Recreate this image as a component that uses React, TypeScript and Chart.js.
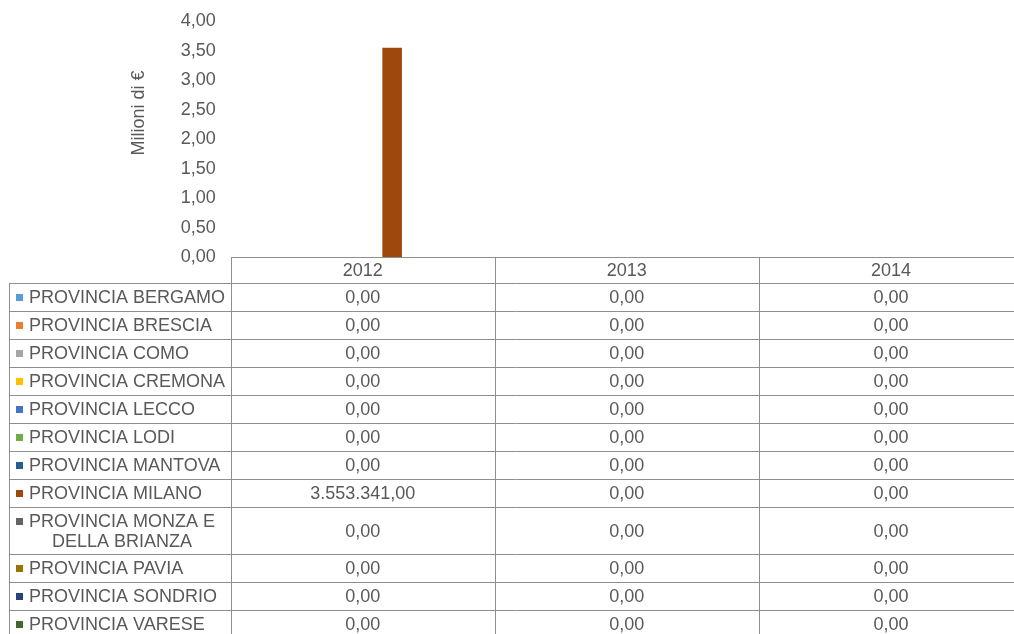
import React, { useEffect, useRef } from "react";
import { Chart, registerables } from "chart.js";

Chart.register(...registerables);

// ---------- data ----------
const years = ["2012", "2013", "2014"];
const provinces = [
  "PROVINCIA BERGAMO",
  "PROVINCIA BRESCIA",
  "PROVINCIA COMO",
  "PROVINCIA CREMONA",
  "PROVINCIA LECCO",
  "PROVINCIA LODI",
  "PROVINCIA MANTOVA",
  "PROVINCIA MILANO",
  "PROVINCIA MONZA E DELLA BRIANZA",
  "PROVINCIA PAVIA",
  "PROVINCIA SONDRIO",
  "PROVINCIA VARESE",
];
const bergamo = [0, 0, 0];
const brescia = [0, 0, 0];
const como = [0, 0, 0];
const cremona = [0, 0, 0];
const lecco = [0, 0, 0];
const lodi = [0, 0, 0];
const mantova = [0, 0, 0];
const milano = [3553341, 0, 0];
const monza = [0, 0, 0];
const pavia = [0, 0, 0];
const sondrio = [0, 0, 0];
const varese = [0, 0, 0];
const seriesValues = [bergamo, brescia, como, cremona, lecco, lodi, mantova, milano, monza, pavia, sondrio, varese];
const seriesColors = [
  "#5B9BD5", "#ED7D31", "#A5A5A5", "#FFC000", "#4472C4", "#70AD47",
  "#255E91", "#9E480E", "#636363", "#997300", "#264478", "#43682B",
];
const axisTitle = "Milioni di €";
const yMin = 0;
const yMax = 4;
const yStep = 0.5;
const unit = 1000000;

// ---------- helpers ----------
const FONT = "'Liberation Sans', Arial, sans-serif";
const TEXT = "#595959";
const LINE = "#8e8e8e";

function fmtIt(v: number): string {
  const [i, d] = v.toFixed(2).split(".");
  return i.replace(/\B(?=(\d{3})+(?!\d))/g, ".") + "," + d;
}

function wrap(ctx: CanvasRenderingContext2D, text: string, max: number): string[] {
  const words = text.split(" ");
  const lines: string[] = [];
  let cur = "";
  for (const w of words) {
    const t = cur ? cur + " " + w : w;
    if (cur && ctx.measureText(t).width > max) {
      lines.push(cur);
      cur = w;
    } else cur = t;
  }
  if (cur) lines.push(cur);
  return lines;
}

const px = (v: number) => Math.round(v) + 0.5;

const tablePlugin = {
  id: "dataTable",
  afterDraw(chart: any) {
    const ctx: CanvasRenderingContext2D = chart.ctx;
    const area = chart.chartArea;
    const xs = chart.scales.x;
    const colW = (area.right - area.left) / years.length;
    const tableLeft = 9.5;
    const headerH = 26;
    const rowH = 27.95;
    const extraLineH = 19.45;
    const lineH = 20;
    const labelX = 29;
    const maxLabelW = 200;

    ctx.save();
    ctx.font = "18px " + FONT;
    ctx.textBaseline = "middle";

    // axis title
    ctx.save();
    ctx.fillStyle = TEXT;
    ctx.translate(139, 113);
    ctx.rotate(-Math.PI / 2);
    ctx.textAlign = "center";
    ctx.fillText(axisTitle, 0, 0);
    ctx.restore();

    const top = area.bottom;
    const colEdges = years.map((_, i) => px(area.left + i * colW));
    colEdges.push(px(area.right));

    const rows = provinces.map((p) => {
      const lines = wrap(ctx, p, maxLabelW);
      const h = rowH + (lines.length - 1) * extraLineH;
      return { lines, h };
    });

    ctx.strokeStyle = LINE;
    ctx.lineWidth = 1;

    // header text
    ctx.fillStyle = TEXT;
    ctx.textAlign = "center";
    years.forEach((yr, i) => {
      ctx.fillText(yr, xs.getPixelForValue(i), top + headerH / 2 + 1);
    });

    // rows
    let y = top + headerH;
    const ys: number[] = [y];
    rows.forEach((r, ri) => {
      const yc = y + r.h / 2;
      const nl = r.lines.length;
      const firstY = yc - ((nl - 1) * lineH) / 2;
      ctx.fillStyle = seriesColors[ri];
      ctx.fillRect(16, Math.round(firstY) - 3, 7, 7);
      ctx.fillStyle = TEXT;
      r.lines.forEach((ln, li) => {
        if (li === 0) {
          ctx.textAlign = "left";
          ctx.fillText(ln, labelX, firstY + li * lineH + 1);
        } else {
          ctx.textAlign = "center";
          ctx.fillText(ln, 122, firstY + li * lineH + 1);
        }
      });
      ctx.textAlign = "center";
      seriesValues[ri].forEach((v, ci) => {
        ctx.fillText(fmtIt(v), xs.getPixelForValue(ci), yc + 1);
      });
      y = y + r.h;
      ys.push(y);
    });

    ctx.beginPath();
    ctx.moveTo(colEdges[0] - 0.5, px(top));
    ctx.lineTo(colEdges[colEdges.length - 1] + 0.5, px(top));
    ys.forEach((yy) => {
      ctx.moveTo(tableLeft - 0.5, px(yy));
      ctx.lineTo(colEdges[colEdges.length - 1] + 0.5, px(yy));
    });
    ctx.moveTo(tableLeft, px(ys[0]));
    ctx.lineTo(tableLeft, px(ys[ys.length - 1]));
    colEdges.forEach((cx) => {
      ctx.moveTo(cx, px(top));
      ctx.lineTo(cx, px(ys[ys.length - 1]));
    });
    ctx.stroke();
    ctx.restore();
  },
};

export default function App() {
  const ref = useRef<HTMLCanvasElement | null>(null);

  useEffect(() => {
    if (!ref.current) return;
    const chart = new Chart(ref.current, {
      type: "bar",
      data: {
        labels: years,
        datasets: provinces.map((p, i) => ({
          label: p,
          data: seriesValues[i].map((v) => v / unit),
          backgroundColor: seriesColors[i],
          borderWidth: 0,
        })),
      },
      options: {
        responsive: false,
        animation: false,
        devicePixelRatio: 1,
        layout: { padding: { top: 21.4, bottom: 640 - 257.3, left: 0, right: 1 } },
        datasets: { bar: { categoryPercentage: 0.89, barPercentage: 1 } },
        plugins: {
          legend: { display: false },
          tooltip: { enabled: false },
          title: { display: false },
        },
        scales: {
          x: { display: false },
          y: {
            min: yMin,
            max: yMax,
            grid: { display: false, drawTicks: false },
            border: { display: false },
            ticks: {
              stepSize: yStep,
              padding: 15,
              color: TEXT,
              font: { size: 18, family: FONT },
              callback: (v: any) => Number(v).toFixed(2).replace(".", ","),
            },
            afterFit: (s: any) => {
              s.width = 230.7;
              s.paddingTop = 0;
              s.paddingBottom = 0;
            },
          },
        },
      } as any,
      plugins: [tablePlugin],
    });
    return () => chart.destroy();
  }, []);

  return (
    <div
      style={{
        position: "fixed",
        left: 0,
        top: 0,
        width: 1014,
        height: 634,
        overflow: "hidden",
        background: "#ffffff",
      }}
    >
      <canvas ref={ref} width={1024} height={640} style={{ display: "block", width: 1024, height: 640 }} />
    </div>
  );
}
